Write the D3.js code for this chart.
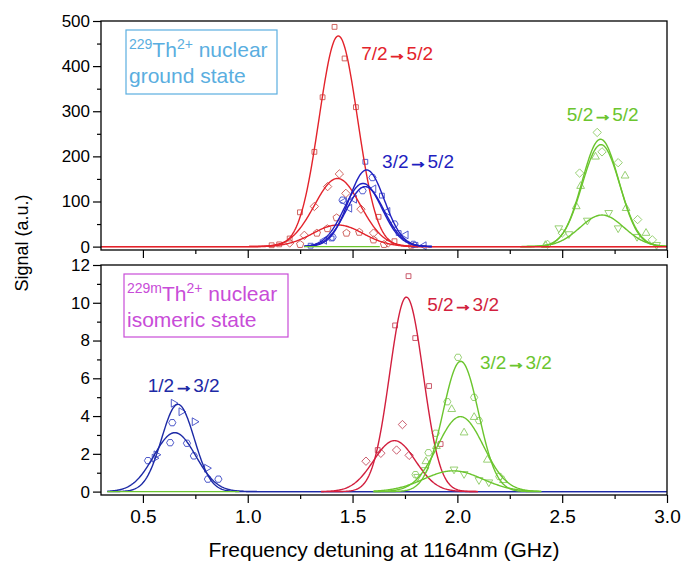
<!DOCTYPE html>
<html>
<head>
  <meta charset="utf-8">
  <title>229Th2+ hyperfine spectra</title>
  <script src="https://d3js.org/d3.v7.min.js"></script>
  <style>
    body { margin: 0; background: #fff; }
    svg text { font-family: Arial, "Liberation Sans", sans-serif; }
    .tick line { stroke: #000; stroke-width: 1.2; }
    .tick text { font-size: 19px; fill: #000; }
    .yax .tick text { font-size: 17px; }
  </style>
</head>
<body>
  <div id="chart"></div>
  <script>

// ---- data ----
const xTicks = [0.5, 1.0, 1.5, 2.0, 2.5, 3.0];
const groundTicks = [0, 100, 200, 300, 400, 500];
const isomerTicks = [0, 2, 4, 6, 8, 10, 12];

// top panel (nuclear ground state): three transitions, three Gaussian fits each
const groundTransitions = ["7/2\u21925/2", "3/2\u21925/2", "5/2\u21925/2"];
const groundAmp    = [[467, 151, 48], [170, 140, 133], [238, 226, 70]];
const groundCenter = [[1.432, 1.428, 1.43], [1.567, 1.55, 1.56], [2.683, 2.685, 2.69]];
const groundSigma  = [[0.092, 0.11, 0.12], [0.085, 0.09, 0.09], [0.088, 0.09, 0.105]];
const groundSpan   = [[0.3, 3.0], [1.27, 1.88], [2.3, 3.0]];
const groundPoints = [
  [
    [[1.114, 3], [1.15, 5], [1.2, 18], [1.249, 76], [1.318, 210], [1.357, 331], [1.414, 487], [1.462, 417], [1.516, 309], [1.624, 66], [1.7, 12], [1.78, 2]],
    [[1.2, 8], [1.27, 25], [1.318, 89], [1.381, 133], [1.437, 161], [1.468, 118], [1.54, 83], [1.6, 30], [1.67, 8]],
    [[1.25, 5], [1.33, 30], [1.38, 40], [1.424, 64], [1.471, 30], [1.532, 32], [1.6, 15], [1.65, 5]]
  ],
  [
    [[1.3, 2], [1.4, 18], [1.561, 188], [1.64, 113], [1.72, 30], [1.8, 4]],
    [[1.365, 14], [1.46, 100], [1.485, 85], [1.508, 105], [1.6, 128], [1.667, 78], [1.754, 26], [1.84, 2]],
    [[1.405, 21], [1.452, 103], [1.548, 124], [1.595, 153], [1.7, 50], [1.79, 5]]
  ],
  [
    [[2.43, 5], [2.5, 30], [2.583, 163], [2.667, 253], [2.69, 210], [2.767, 186], [2.86, 60], [2.93, 15]],
    [[2.42, 3], [2.567, 89], [2.588, 134], [2.659, 199], [2.8, 157], [2.805, 85], [2.9, 30]],
    [[2.484, 41], [2.532, 28], [2.62, 58], [2.722, 75], [2.767, 41], [2.857, 22], [2.95, 4]]
  ]
];
const groundZeroSpan = [1.27, 1.63];

// bottom panel (nuclear isomeric state)
const isomerTransitions = ["1/2\u21923/2", "5/2\u21923/2", "3/2\u21923/2"];
const isomerAmp    = [[4.62, 3.12], [10.3, 2.7], [6.9, 3.97, 1.1]];
const isomerCenter = [[0.667, 0.652], [1.757, 1.70], [2.016, 2.015, 1.98]];
const isomerSigma  = [[0.078, 0.1], [0.08, 0.1], [0.085, 0.11, 0.14]];
const isomerSpan   = [[0.33, 3.0], [1.35, 2.1], [1.6, 2.4]];
const isomerPoints = [
  [
    [[0.555, 1.77], [0.564, 1.95], [0.646, 4.68], [0.683, 4.23], [0.746, 3.7], [0.805, 1.24]],
    [[0.524, 1.64], [0.63, 2.59], [0.64, 3.65], [0.71, 2.56], [0.743, 1.89], [0.81, 0.66], [0.86, 0.66]]
  ],
  [
    [[1.62, 2.2], [1.703, 8.8], [1.767, 11.41], [1.799, 8.13], [1.865, 5.59], [1.92, 2.52]],
    [[1.564, 1.61], [1.635, 2.03], [1.71, 2.2], [1.738, 3.55], [1.77, 1.92]]
  ],
  [
    [[1.8, 0.9], [1.862, 2.06], [1.897, 3.09], [1.952, 4.76], [2.003, 7.11], [2.08, 4.99], [2.103, 3.76], [2.2, 0.8]],
    [[1.85, 1.6], [1.9, 2.4], [1.973, 4.36], [2.032, 3.12], [2.08, 3.94], [2.143, 1.68], [2.22, 0.6]],
    [[1.81, 0.79], [1.846, 1.15], [1.984, 1.18], [2.032, 0.94], [2.103, 0.62], [2.15, 0.5]]
  ]
];
const isomerZeroSpan = [0.33, 0.96];

// ---- styling / layout ----
const width = 681, height = 562;
const left = 101, right = 667;
const red = "#e3232b", red2 = "#d21f3e", blue = "#1f1fc0", blue2 = "#1d2aa6", green = "#6bc52e";
const groundLineColor = [red, blue, green];
const isomerLineColor = [blue2, red2, green];
const groundMarkColor = ["#c9554f", "#3f4ccc", "#8ccb64"];
const isomerMarkColor = ["#3b47c4", "#c44a5c", "#8ccb64"];
const groundShapes = [["square", "diamond", "pentagon"], ["square", "triLeft", "hexagon"], ["diamond", "triUp", "triDown"]];
const isomerShapes = [["triRight", "hexagon"], ["square", "diamond"], ["hexagon", "triUp", "triDown"]];
// label anchors in data units (left end, baseline)
const groundLabelAt = [[1.541, 414], [1.641, 174], [2.522, 278]];
const isomerLabelAt = [[0.523, 5.27], [1.856, 9.56], [2.108, 6.49]];

const svg = d3.select("#chart").append("svg")
  .attr("width", width).attr("height", height);
svg.append("rect").attr("width", width).attr("height", height).attr("fill", "#fff");

const x = d3.scaleLinear().domain([0.3, 3.0]).range([left, right]);
const yTop = d3.scaleLinear().domain([-7.5, 500]).range([250, 21]);
const yBot = d3.scaleLinear().domain([-0.18, 12]).range([495, 265]);

function polygon(n, r, rot) {
  const p = d3.range(n).map(i => {
    const a = rot + i * 2 * Math.PI / n;
    return [r * Math.cos(a), r * Math.sin(a)];
  });
  return "M" + p.map(d => d.join(",")).join("L") + "Z";
}
const shapePath = {
  square: polygon(4, 3.4, Math.PI / 4),
  diamond: polygon(4, 4.2, 0),
  pentagon: polygon(5, 3.8, -Math.PI / 2),
  hexagon: polygon(6, 3.6, 0),
  triUp: polygon(3, 4.5, -Math.PI / 2),
  triDown: polygon(3, 4.5, Math.PI / 2),
  triLeft: polygon(3, 4.5, Math.PI),
  triRight: polygon(3, 4.5, 0)
};

function gauss(a, mu, s) {
  return v => a * Math.exp(-((v - mu) ** 2) / (2 * s * s));
}

function drawPanel(y, ticks, minor, amps, centers, sigmas, spans, points, shapes, lineColor, markColor, zeroSpan, zeroAfter, order, labels, labelAt, showX) {
  const g = svg.append("g");

  // axes
  g.append("g").attr("class", "yax").attr("transform", `translate(${left},0)`)
    .call(d3.axisLeft(y).tickValues(ticks).tickSize(8).tickPadding(3).tickSizeOuter(0))
    .call(a => a.select(".domain").remove());
  g.append("g").attr("transform", `translate(${left},0)`)
    .call(d3.axisLeft(y).tickValues(minor).tickSize(4).tickFormat("").tickSizeOuter(0))
    .call(a => a.select(".domain").remove());
  const y0 = y.range()[0];
  g.append("g").attr("transform", `translate(0,${y0})`)
    .call(d3.axisBottom(x).tickValues(xTicks).tickSize(8).tickPadding(7).tickSizeOuter(0)
      .tickFormat(showX ? d3.format(".1f") : ""))
    .call(a => a.select(".domain").remove());
  g.append("g").attr("transform", `translate(0,${y0})`)
    .call(d3.axisBottom(x).tickValues(d3.range(0.75, 3, 0.5)).tickSize(4).tickFormat("").tickSizeOuter(0))
    .call(a => a.select(".domain").remove());

  const plot = g.append("g");
  // markers
  points.forEach((grp, i) => grp.forEach((pts, j) => {
    plot.append("g").selectAll("path").data(pts).join("path")
      .attr("transform", d => `translate(${x(d[0])},${y(d[1])})`)
      .attr("d", shapePath[shapes[i][j]])
      .attr("fill", "none").attr("stroke", markColor[i]).attr("stroke-width", 0.9);
  }));

  const line = d3.line().x(d => x(d[0])).y(d => y(d[1]));
  const zeroLine = () => plot.append("path")
    .attr("d", line(zeroSpan.map(v => [v, 0])))
    .attr("stroke", green).attr("stroke-width", 1.4).attr("fill", "none");

  order.forEach(i => {
    amps[i].forEach((a, j) => {
      const f = gauss(a, centers[i][j], sigmas[i][j]);
      const xs = d3.range(spans[i][0], spans[i][1] + 1e-9, 0.004);
      plot.append("path")
        .attr("d", line(xs.map(v => [v, f(v)])))
        .attr("fill", "none").attr("stroke", lineColor[i]).attr("stroke-width", 1.4);
    });
    if (i === zeroAfter) zeroLine();
  });

  // frame
  g.append("rect")
    .attr("x", left).attr("y", y.range()[1])
    .attr("width", right - left).attr("height", y0 - y.range()[1])
    .attr("fill", "none").attr("stroke", "#000").attr("stroke-width", 1.3);

  // transition labels
  labels.forEach((t, i) => {
    const parts = t.split("\u2192");
    const txt = g.append("text")
      .attr("x", x(labelAt[i][0])).attr("y", y(labelAt[i][1]))
      .attr("fill", lineColor[i]).attr("font-size", "19px");
    txt.append("tspan").text(parts[0]);
    txt.append("tspan").text("\u2192").attr("stroke", lineColor[i]).attr("stroke-width", 1);
    txt.append("tspan").text(parts[1]);
  });
}

drawPanel(yTop, groundTicks, d3.range(50, 500, 100), groundAmp, groundCenter, groundSigma, groundSpan,
  groundPoints, groundShapes, groundLineColor, groundMarkColor, groundZeroSpan, 1, [2, 0, 1],
  groundTransitions, groundLabelAt, false);
drawPanel(yBot, isomerTicks, d3.range(1, 12, 2), isomerAmp, isomerCenter, isomerSigma, isomerSpan,
  isomerPoints, isomerShapes, isomerLineColor, isomerMarkColor, isomerZeroSpan, 0, [0, 1, 2],
  isomerTransitions, isomerLabelAt, true);

// state boxes
function stateBox(bx, by, bw, bh, color, sup, second) {
  svg.append("rect").attr("x", bx).attr("y", by).attr("width", bw).attr("height", bh)
    .attr("fill", "#fff").attr("stroke", color).attr("stroke-width", 1.2);
  const t1 = svg.append("text").attr("x", bx + 3).attr("y", by + 27).attr("fill", color).attr("font-size", "21px");
  t1.append("tspan").text(sup).attr("font-size", "14px").attr("dy", -8);
  t1.append("tspan").text("Th").attr("dy", 8);
  t1.append("tspan").text("2+").attr("font-size", "14px").attr("dy", -8);
  t1.append("tspan").text(" nuclear").attr("dy", 8);
  svg.append("text").attr("x", bx + 3).attr("y", by + 53).attr("fill", color).attr("font-size", "21px").text(second);
}
stateBox(126, 30, 151, 64, "#5aaee0", "229", "ground state");
stateBox(124, 274, 164, 63, "#c84cd8", "229m", "isomeric state");

// axis titles
svg.append("text").attr("x", 384).attr("y", 557).attr("text-anchor", "middle")
  .attr("font-size", "21px").text("Frequency detuning at 1164nm (GHz)");
svg.append("text").attr("transform", "translate(28,243) rotate(-90)").attr("text-anchor", "middle")
  .attr("font-size", "18px").text("Signal (a.u.)");
  </script>
</body>
</html>
